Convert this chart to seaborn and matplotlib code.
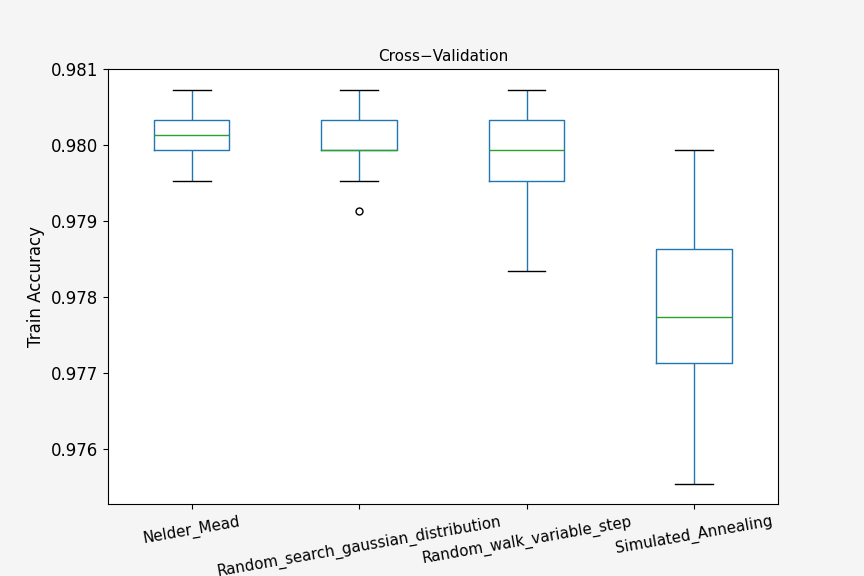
import seaborn as sns
import matplotlib.pyplot as plt
import pandas as pd

methods = ["Nelder_Mead", "Random_search_gaussian_distribution",
           "Random_walk_variable_step", "Simulated_Annealing"]
nelder_mead = [0.97953, 0.97993, 0.97993, 0.97993, 0.97993, 0.98033, 0.98033, 0.98033, 0.98073, 0.98073]
random_search = [0.97913, 0.97953, 0.97993, 0.97993, 0.97993, 0.97993, 0.98033, 0.98033, 0.98073, 0.98073]
random_walk = [0.97834, 0.97953, 0.97953, 0.97953, 0.97993, 0.97993, 0.98033, 0.98033, 0.98073, 0.98073]
sim_annealing = [0.97553, 0.97673, 0.97713, 0.97713, 0.97753, 0.97793, 0.97833, 0.97873, 0.97953, 0.97993]

rows = []
for name, vals in zip(methods, [nelder_mead, random_search, random_walk, sim_annealing]):
    for v in vals:
        rows.append({"method": name, "acc": v})
df = pd.DataFrame(rows)

fig = plt.figure(figsize=(8.64, 5.76), dpi=100, facecolor="#f5f5f5")
ax = fig.add_axes([0.125, 0.125, 0.775, 0.755])
sns.boxplot(data=df, x="method", y="acc", order=methods, ax=ax, width=0.45, fill=False,
            boxprops=dict(color="#1f77b4", linewidth=1),
            whiskerprops=dict(color="#1f77b4", linewidth=1),
            capprops=dict(color="black", linewidth=1),
            medianprops=dict(color="#2ca02c", linewidth=1),
            flierprops=dict(marker="o", markerfacecolor="none", markeredgecolor="black", markersize=5))
ax.set_ylim(0.97527, 0.981)
ax.set_xlim(-0.5, 3.5)
ax.set_yticks([0.976, 0.977, 0.978, 0.979, 0.980, 0.981])
ax.set_yticklabels(["0.976", "0.977", "0.978", "0.979", "0.980", "0.981"], fontsize=12)
ax.set_xticks(range(4))
ax.set_xticklabels(methods, rotation=10, fontsize=10.8)
ax.set_xlabel("")
ax.set_ylabel("Train Accuracy", fontsize=12)
ax.set_title("Cross\u2212Validation", fontsize=11)
fig.savefig("out.png", dpi=100, facecolor=fig.get_facecolor())
